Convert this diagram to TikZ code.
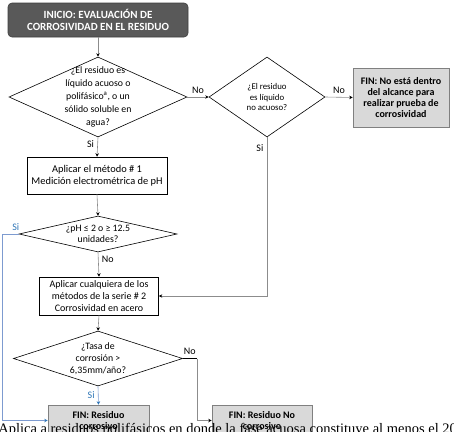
\documentclass[tikz,border=0pt]{standalone}
\usepackage{fontspec}
\setmainfont{Carlito}
\newfontfamily\notafont{Liberation Serif}
\usepackage{tikz}
\usetikzlibrary{calc,arrows.meta,shapes.geometric,shadows}
\usepackage{xcolor}

\definecolor{inicio}{RGB}{89,89,89}
\definecolor{fingris}{RGB}{217,217,217}
\definecolor{linea}{RGB}{140,140,140}
\definecolor{lineaazul}{RGB}{125,155,208}
\definecolor{textoazul}{RGB}{46,117,182}

\begin{document}
\begin{tikzpicture}[x=1pt, y=-1pt, line width=0.6pt,
  every node/.style={font=\fontsize{10}{12}\selectfont},
  inicio box/.style={rectangle, rounded corners=4pt, fill=inicio, draw=inicio!70!black, text=white, align=center, inner sep=0, font=\fontsize{11}{12}\selectfont\bfseries},
  decision/.style={diamond, draw=black, inner sep=0},
  proceso/.style={rectangle, draw=black, align=center, inner sep=0},
  fin box/.style={rectangle, draw=gray, fill=fingris, align=center, inner sep=0, font=\fontsize{10}{11.2}\selectfont\bfseries, drop shadow={shadow xshift=1pt, shadow yshift=-1pt, opacity=.45}},
  conn/.style={draw=linea, -{Stealth[length=3.5pt, width=3.5pt, black]}},
  connazul/.style={draw=lineaazul, -{Stealth[length=3.5pt, width=3.5pt, textoazul]}}
]
\useasboundingbox (0,0) rectangle (454,431);
\clip (0,0) rectangle (454,431);

% inicio
\node[inicio box, minimum width=180, minimum height=34] (inicio) at (98,20) {INICIO: EVALUACIÓN DE\\CORROSIVIDAD EN EL RESIDUO};

% preguntas
\node[decision, minimum width=178, minimum height=80, label={[align=center, font=\fontsize{9.8}{13}\selectfont]center:{¿El residuo es\\líquido acuoso o\\polifásico\textsuperscript{a}, o un\\sólido soluble en\\agua?}}] (d1) at (98,97) {};

\node[decision, minimum width=116, minimum height=80, label={[align=center, font=\fontsize{8.8}{10.7}\selectfont]center:{¿El residuo\\es líquido\\no acuoso?}}] (d2) at (267,97) {};

\node[fin box, minimum width=96, minimum height=59] (fin1) at (401,97.5) {FIN: No está dentro\\del alcance para\\realizar prueba de\\corrosividad};

% metodos
\node[proceso, minimum width=140, minimum height=37, font=\fontsize{10.4}{11.8}\selectfont] (m1) at (97,175.5) {Aplicar el método \# 1\\Medición electrométrica de pH};

\node[decision, minimum width=158, minimum height=36, label={[align=center, font=\fontsize{9.8}{11}\selectfont]center:{¿pH ≤ 2 o ≥ 12.5\\unidades?}}] (d3) at (98,234) {};

\node[proceso, minimum width=119, minimum height=38] (m2) at (99,296) {Aplicar cualquiera de los\\métodos de la serie \# 2\\Corrosividad en acero};

\node[decision, minimum width=169, minimum height=55, label={[align=center, font=\fontsize{9.8}{12}\selectfont]center:{¿Tasa de\\corrosión >\\6,35mm/año?}}] (d4) at (98,358.5) {};

% finales
\node[fin box, minimum width=101, minimum height=31] (fc) at (98.5,420.5) {FIN: Residuo\\corrosivo};
\node[fin box, minimum width=100, minimum height=31] (fn) at (262,420.5) {FIN: Residuo No\\corrosivo};

\coordinate (c4) at ($(d4.east)+(14,0)$);

% conectores
\draw[conn] (inicio.south) -- (d1.north);
\draw[conn] (d1.east) -- node[above] {No} (d2.west);
\draw[conn] (d2.east) -- node[above] {No} (fin1.west);
\draw[conn] (d1.south) -- node[pos=.35, left] {Si} (m1.north);
\draw[conn] (d2.south) |- node[pos=.035, left] {Si} (m2.east);
\draw[conn] (m1.south) -- (d3.north);
\draw[connazul] (d3.west) node[above, xshift=-3pt, text=textoazul] {Si} -- ++(-16,0) |- (fc.west);
\draw[conn] (d3.south) -- node[pos=.3, right] {No} (m2.north);
\draw[conn] (m2.south) -- (d4.north);
\draw[black] (d4.east) -- node[above] {No} (c4);
\draw[conn] (c4) |- (fn.west);
\draw[connazul] (d4.south) -- node[left, text=textoazul] {Si} (fc.north);

% nota
\node[anchor=base west, inner sep=0, font=\notafont\fontsize{14.5}{17}\selectfont] (nota) at (-2,433) {Aplica a residuos polifásicos en donde la fase acuosa constituye al menos el 20};

\end{tikzpicture}
\end{document}
